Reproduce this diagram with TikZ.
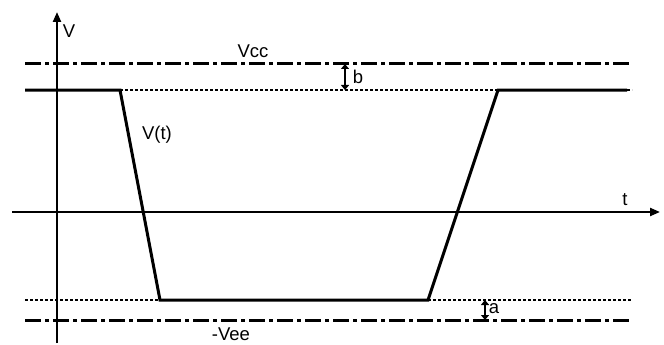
\documentclass[tikz,border=0pt]{standalone}
\usepackage{fontspec}
\setmainfont{Liberation Sans}
\usetikzlibrary{arrows.meta}
\begin{document}
\begin{tikzpicture}[x=1pt,y=-1pt,
  lbl/.style={font=\fontsize{18.5}{21}\selectfont, inner sep=0pt},
  axis/.style={line width=2.2pt,-{Triangle[length=10pt,width=8pt]}},
  sig/.style={line width=3pt, line join=miter},
  dd/.style={line width=3pt, dash pattern=on 16pt off 4pt on 4pt off 4pt},
  thin dash/.style={line width=1.5pt, dash pattern=on 3pt off 2pt},
  gap/.style={line width=2pt,{Triangle[length=5pt,width=8pt]}-{Triangle[length=5pt,width=8pt]}}]
\useasboundingbox (0,0) rectangle (664,345);
% coordinates
\coordinate (yb) at (57,343);
\coordinate (yt) at (57,12);
\coordinate (xl) at (12,212);
\coordinate (xr) at (660,212);
\coordinate (vccL) at (25,64);
\coordinate (vccR) at (632,64);
\coordinate (veeL) at (25,320);
\coordinate (veeR) at (632,320);
\coordinate (h0) at (25,90);
\coordinate (h1) at (120,90);
\coordinate (l1) at (160,300);
\coordinate (l2) at (428,300);
\coordinate (h2) at (498,90);
\coordinate (h3) at (627,90);
\coordinate (hd) at (632,90);
\coordinate (ld0) at (25,300);
\coordinate (ld1) at (632,300);
\coordinate (bT) at (345,64);
\coordinate (bB) at (345,90);
\coordinate (aT) at (485,300);
\coordinate (aB) at (485,320);
% reference lines
\draw[dd] (vccL) -- (vccR);
\draw[dd] (veeL) -- (veeR);
\draw[thin dash] (h1) -- (h2);
\draw[thin dash] (h3) -- (hd);
\draw[thin dash] (ld0) -- (l1);
\draw[thin dash] (l2) -- (ld1);
% axes
\draw[axis] (yb) -- (yt);
\draw[axis] (xl) -- (xr);
% signal
\draw[sig] (h0) -- (h1) -- (l1) -- (l2) -- (h2) -- (h3);
% gaps
\draw[gap] (bT) -- (bB);
\draw[gap] (aT) -- (aB);
% labels
\node[lbl] (V) at (69,31) {V};
\node[lbl] (t) at (625,200) {t};
\node[lbl] (vcc) at (253,51) {Vcc};
\node[lbl] (vee) at (231,334) {-Vee};
\node[lbl] (b) at (358,77) {b};
\node[lbl] (a) at (494,309) {a};
\node[lbl] (vt) at (157,135) {V(t)};
\end{tikzpicture}
\end{document}
